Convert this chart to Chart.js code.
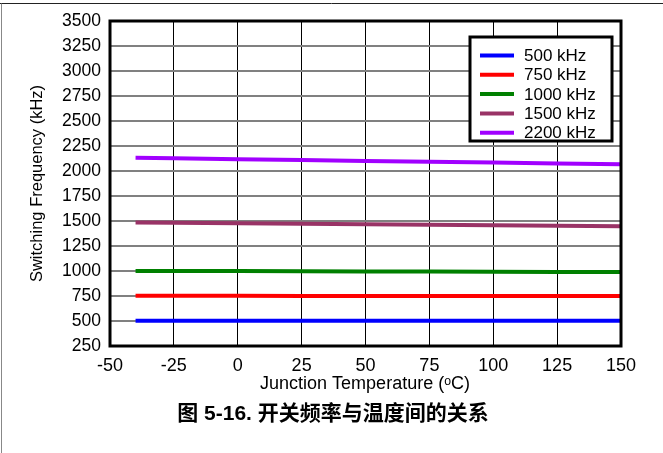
<!DOCTYPE html>
<html>
<head>
<meta charset="utf-8">
<script src="https://cdn.jsdelivr.net/npm/chart.js@4"></script>
<style>
  html, body { margin: 0; padding: 0; background: #fff; }
  canvas { display: block; }
</style>
</head>
<body>
<canvas id="myChart" width="663" height="453"></canvas>
<script>
// junction temperature (°C) and switching frequency (kHz)
const temps = [-40, -25, 0, 25, 50, 75, 100, 125, 150];
const f500  = [503, 503, 503, 503, 503, 503, 503, 503, 503];
const f750  = [752, 752, 752, 751, 751, 751, 750, 750, 750];
const f1000 = [1000, 1000, 999, 998, 996, 995, 993, 991, 990];
const f1500 = [1485, 1482, 1477, 1472, 1467, 1462, 1457, 1452, 1447];
const f2200 = [2132, 2127, 2118, 2110, 2101, 2093, 2084, 2075, 2067];

const seriesNames  = ['500 kHz', '750 kHz', '1000 kHz', '1500 kHz', '2200 kHz'];
const seriesColors = ['#0000ff', '#ff0000', '#008000', '#993366', '#a100ff'];
const xTicks = [-50, -25, 0, 25, 50, 75, 100, 125, 150];
const yTicks = [250, 500, 750, 1000, 1250, 1500, 1750, 2000, 2250, 2500, 2750, 3000, 3250, 3500];

const xTitle = 'Junction Temperature (\u1D52C)';
const yTitle = 'Switching Frequency (kHz)';
const caption = '图 5-16. 开关频率与温度间的关系';

const FONT = '"Liberation Sans", Arial, sans-serif';

function toPoints(vals) {
    return vals.map((v, i) => ({ x: temps[i], y: v }));
}

const allSeries = [f500, f750, f1000, f1500, f2200];

const extras = {
    id: 'extras',
    beforeDraw(chart) {
        const ctx = chart.ctx;
        ctx.save();
        ctx.fillStyle = '#fff';
        ctx.fillRect(0, 0, chart.width, chart.height);
        // page frame
        ctx.strokeStyle = '#222';
        ctx.lineWidth = 1;
        ctx.beginPath();
        ctx.moveTo(0, 3.5); ctx.lineTo(chart.width, 3.5);
        ctx.stroke();
        ctx.strokeStyle = '#888';
        ctx.beginPath();
        ctx.moveTo(1.5, 3.5); ctx.lineTo(1.5, chart.height);
        ctx.stroke();
        ctx.restore();
    },
    afterDraw(chart) {
        const ctx = chart.ctx;
        const a = chart.chartArea;
        ctx.save();
        // plot border
        ctx.strokeStyle = '#000';
        ctx.lineWidth = 3;
        ctx.strokeRect(a.left, a.top, a.right - a.left, a.bottom - a.top);

        // axis titles
        ctx.fillStyle = '#000';
        ctx.font = '18px ' + FONT;
        ctx.textAlign = 'center';
        ctx.textBaseline = 'middle';
        ctx.fillText(xTitle, 365, 384);
        ctx.save();
        ctx.translate(37, (a.top + a.bottom) / 2);
        ctx.rotate(-Math.PI / 2);
        ctx.font = '16.5px ' + FONT;
        ctx.fillText(yTitle, 0, 0);
        ctx.restore();

        // caption
        ctx.font = 'bold 21px "Liberation Sans", "Noto Sans CJK SC", sans-serif';
        ctx.fillText(caption, 333, 414);

        // legend box
        const bx = 470, by = 37, bw = 142, bh = 104;
        ctx.fillStyle = '#fff';
        ctx.fillRect(bx, by, bw, bh);
        ctx.lineWidth = 3;
        ctx.strokeStyle = '#000';
        ctx.strokeRect(bx, by, bw, bh);
        ctx.font = '17px ' + FONT;
        ctx.textAlign = 'left';
        chart.data.datasets.forEach((ds, i) => {
            const yy = 55.5 + i * 19.3;
            ctx.strokeStyle = ds.borderColor;
            ctx.lineWidth = 4;
            ctx.beginPath();
            ctx.moveTo(480, yy); ctx.lineTo(514, yy);
            ctx.stroke();
            ctx.fillStyle = '#000';
            ctx.fillText(ds.label, 524, yy + 1);
        });
        ctx.restore();
    }
};

const ctx = document.getElementById('myChart').getContext('2d');
new Chart(ctx, {
    type: 'line',
    data: {
        datasets: allSeries.map((vals, i) => ({
            label: seriesNames[i],
            data: toPoints(vals),
            borderColor: seriesColors[i],
            backgroundColor: seriesColors[i],
            borderWidth: 4,
            pointRadius: 0,
            tension: 0
        }))
    },
    options: {
        responsive: false,
        animation: false,
        layout: { padding: { top: 21, right: 42, left: 0, bottom: 0 } },
        plugins: {
            legend: { display: false },
            tooltip: { enabled: false }
        },
        scales: {
            x: {
                type: 'linear',
                min: -50,
                max: 150,
                afterFit: s => { s.height = 107; },
                afterBuildTicks: s => { s.ticks = xTicks.map(v => ({ value: v })); },
                grid: { color: '#000', lineWidth: 1, drawTicks: false },
                border: { display: false },
                ticks: {
                    padding: 9,
                    color: '#000',
                    maxRotation: 0,
                    callback: v => String(v),
                    font: { family: FONT, size: 18 }
                }
            },
            y: {
                min: 250,
                max: 3500,
                afterFit: s => { s.width = 110; },
                afterBuildTicks: s => { s.ticks = yTicks.map(v => ({ value: v })); },
                grid: { color: '#808080', lineWidth: 2, drawTicks: false },
                border: { display: false },
                ticks: {
                    padding: 9,
                    color: '#000',
                    callback: v => String(v),
                    font: { family: FONT, size: 17.5 }
                }
            }
        }
    },
    plugins: [extras]
});
</script>
</body>
</html>
